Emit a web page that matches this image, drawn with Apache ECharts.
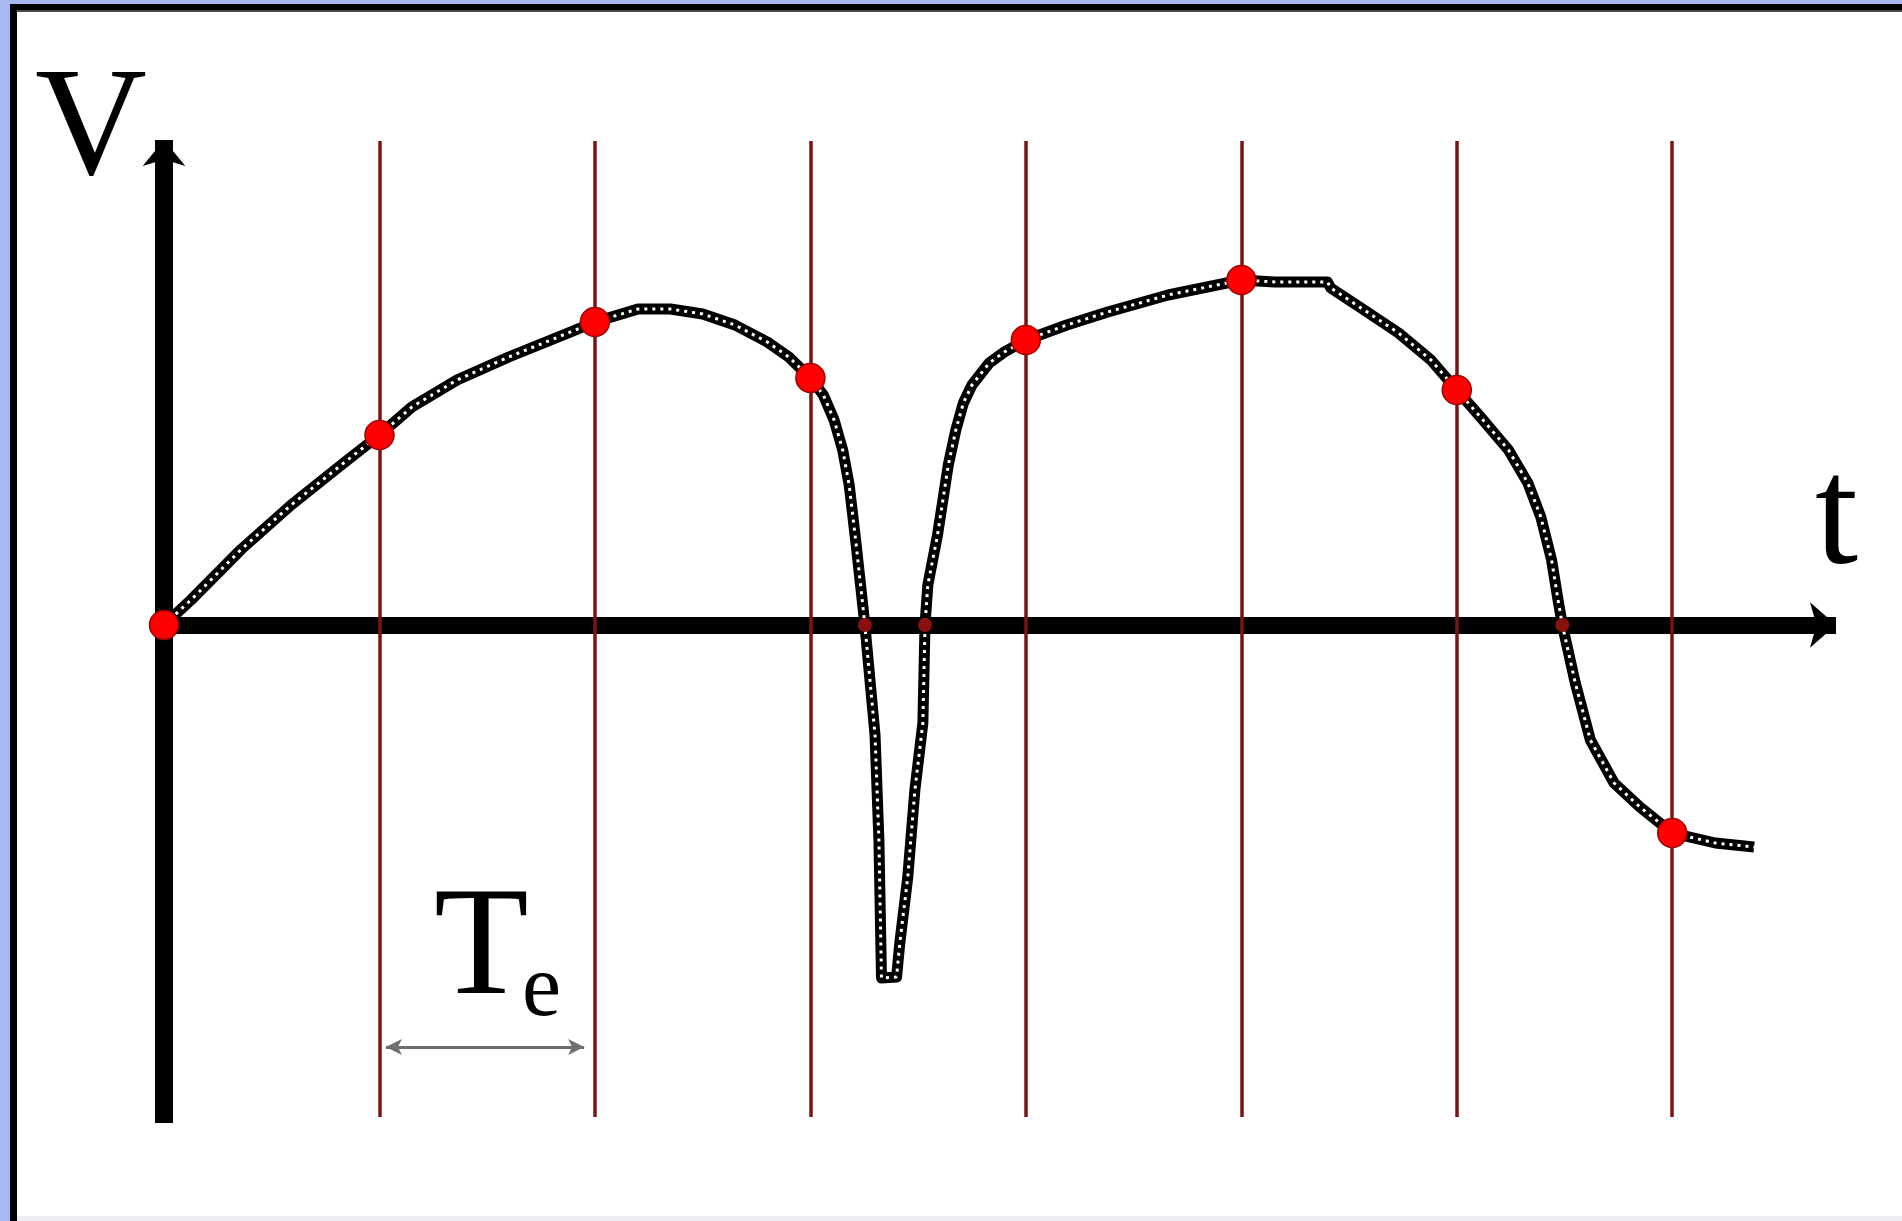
<!DOCTYPE html>
<html>
<head>
<meta charset="utf-8">
<script src="https://cdn.jsdelivr.net/npm/echarts@6/dist/echarts.min.js"></script>
<style>
  html, body { margin: 0; padding: 0; background: #fff; }
  #chart { width: 1902px; height: 1221px; }
</style>
</head>
<body>
<div id="chart"></div>
<script>
// signal V(t) (t in units of Te)
var curveT = [0, 0.125, 0.36, 0.59, 0.84, 1.0, 1.15, 1.36, 1.6, 1.83, 2.0, 2.2, 2.35, 2.5, 2.65, 2.8, 2.9, 3.0,
  3.06, 3.11, 3.15, 3.18, 3.21, 3.253, 3.27, 3.3, 3.318, 3.33, 3.40, 3.415, 3.452, 3.485, 3.522, 3.532,
  3.545, 3.59, 3.64, 3.675, 3.71, 3.75, 3.83, 3.9, 4.0, 4.19, 4.38, 4.66, 5.0, 5.155, 5.4, 5.415, 5.57,
  5.73, 5.88, 6.0, 6.11, 6.24, 6.33, 6.39, 6.44, 6.47, 6.49, 6.55, 6.62, 6.73, 6.85, 7.0, 7.2, 7.38];
var curveV = [0, 25, 76, 120, 163, 190, 218, 245, 268, 288, 303, 316, 316, 311, 300, 283, 268, 247,
  230, 205, 175, 140, 85, 0, -40, -110, -215, -353, -352, -318, -252, -165, -98, 0,
  40, 90, 160, 195, 222, 240, 262, 273, 285, 300, 313, 330, 345, 343, 343, 337, 315,
  292, 265, 235, 208, 175, 142, 108, 65, 25, 0, -58, -115, -158, -182, -208, -218, -222];

// echantillons (points rouges)
var sampleT = [0, 1, 2, 3, 4, 5, 6, 7];
var sampleV = [0, 190, 303, 247, 285, 345, 235, -208];

// passages par zero
var crossT = [3.253, 3.532, 6.49];

// traits verticaux
var gridT = [1, 2, 3, 4, 5, 6, 7];
var periodSpan = [1.03, 1.95];

var curve = curveT.map(function (t, i) { return [t, curveV[i]]; });
var samples = sampleT.map(function (t, i) { return [t, sampleV[i]]; });
var crosses = crossT.map(function (t) { return [t, 0]; });

// les deux bouts doivent rester dans le repere sinon echarts les jette
var vlines = gridT.map(function (t) {
  return [{ coord: [t, 484] }, { coord: [t, -492] }];
});

var serif = "'Liberation Serif', 'Times New Roman', serif";

var myChart = echarts.init(document.getElementById('chart'));

var option = {
  animation: false,
  backgroundColor: '#fff',
  grid: { left: 164, right: 66, top: 140, bottom: 98 },
  xAxis: {
    type: 'value',
    min: 0,
    max: 7.76,
    interval: 1,
    axisLine: {
      show: true,
      onZero: true,
      symbol: ['none', 'arrow'],
      symbolSize: [34, 26],
      lineStyle: { color: '#000', width: 17, cap: 'butt' }
    },
    axisTick: { show: false },
    axisLabel: { show: false },
    splitLine: { show: false }
  },
  yAxis: {
    type: 'value',
    min: -498,
    max: 485,
    axisLine: {
      show: true,
      symbol: ['none', 'arrow'],
      symbolSize: [32, 26],
      lineStyle: { color: '#000', width: 18, cap: 'butt' }
    },
    axisTick: { show: false },
    axisLabel: { show: false },
    splitLine: { show: false }
  },
  series: [
    {
      // support invisible pour les traits d'echantillonnage + fleche Te
      type: 'line',
      data: curve,
      showSymbol: false,
      silent: true,
      z: 1,
      lineStyle: { opacity: 0, width: 0 },
      markLine: {
        silent: true,
        symbol: ['none', 'none'],
        label: { show: false },
        lineStyle: { color: '#7a1414', width: 3.5, type: 'solid', opacity: 1 },
        data: vlines.concat([[
          { coord: [periodSpan[0], -422], symbol: 'arrow', symbolSize: [12, 16],
            lineStyle: { color: '#6e6e6e', width: 3 } },
          { coord: [periodSpan[1], -422], symbol: 'arrow', symbolSize: [12, 16] }
        ]])
      }
    },
    {
      type: 'line',
      data: curve,
      showSymbol: false,
      z: 3,
      lineStyle: { color: '#000', width: 11, join: 'round' }
    },
    {
      type: 'line',
      data: curve,
      showSymbol: false,
      z: 4,
      lineStyle: { color: '#fff', width: 3, type: [3, 5] }
    },
    {
      type: 'scatter',
      data: crosses,
      symbolSize: 14,
      z: 5,
      itemStyle: { color: '#8a1010', opacity: 1 }
    },
    {
      type: 'scatter',
      data: samples,
      symbolSize: 29,
      z: 6,
      itemStyle: { color: '#ff0000', borderColor: '#a00000', borderWidth: 1.5, opacity: 1 }
    }
  ],
  graphic: [
    { type: 'rect', shape: { x: 0, y: 0, width: 1902, height: 4 }, style: { fill: '#a9b8f3' }, silent: true },
    { type: 'rect', shape: { x: 0, y: 0, width: 10, height: 1221 }, style: { fill: '#a9b8f3' }, silent: true },
    { type: 'rect', shape: { x: 10, y: 4, width: 1892, height: 6 }, style: { fill: '#000' }, silent: true },
    { type: 'rect', shape: { x: 10, y: 10, width: 1892, height: 2 }, style: { fill: '#4a4d44' }, silent: true },
    { type: 'rect', shape: { x: 10, y: 4, width: 7, height: 1217 }, style: { fill: '#000' }, silent: true },
    { type: 'rect', shape: { x: 17, y: 1216, width: 1885, height: 5 }, style: { fill: '#efedf1' }, silent: true },
    {
      type: 'text', left: 35, top: 56, silent: true,
      style: { text: 'V', font: '155px ' + serif, fill: '#000' }
    },
    {
      type: 'text', left: 1815, top: 444, silent: true,
      style: { text: 't', font: '155px ' + serif, fill: '#000' }
    },
    {
      type: 'text', left: 434, top: 875, silent: true,
      style: { text: 'T', font: '155px ' + serif, fill: '#000' }
    },
    {
      type: 'text', left: 522, top: 948, silent: true,
      style: { text: 'e', font: '88px ' + serif, fill: '#000' }
    }
  ]
};

myChart.setOption(option);

window.addEventListener('resize', function () {
  myChart.resize();
});
</script>
</body>
</html>
